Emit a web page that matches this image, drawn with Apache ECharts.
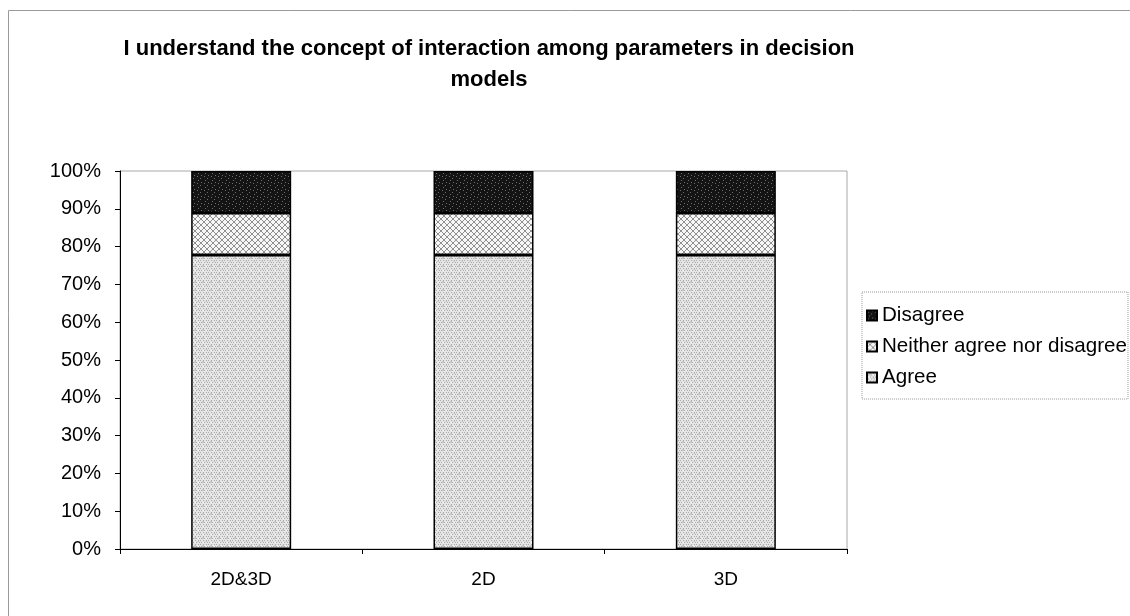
<!DOCTYPE html>
<html>
<head>
<meta charset="utf-8">
<style>
  html, body { margin: 0; padding: 0; background: #ffffff; }
  #chart { width: 1130px; height: 616px; }
</style>
<script src="https://cdn.jsdelivr.net/npm/echarts@6/dist/echarts.min.js"></script>
</head>
<body>
<div id="chart"></div>
<script>
// Survey responses by display mode (share of respondents, %)
const categories = ['2D&3D', '2D', '3D'];
const agree = [77.8, 77.8, 77.8];
const neither = [11.1, 11.1, 11.1];
const disagree = [11.1, 11.1, 11.1];
const yTicks = [0, 10, 20, 30, 40, 50, 60, 70, 80, 90, 100];

const titleText = 'I understand the concept of interaction among parameters in decision\nmodels';
const FONT = '"Liberation Sans", Arial, sans-serif';

// Small tiled fills that give the printed look of each response band
function makePattern(draw, size) {
  const c = document.createElement('canvas');
  c.width = size; c.height = size;
  const g = c.getContext('2d');
  draw(g, size);
  return { image: c, repeat: 'repeat' };
}

const agreeFill = makePattern(function (g, s) {
  g.fillStyle = '#e6e6e6'; g.fillRect(0, 0, s, s);
  g.fillStyle = '#a8a8a8';
  for (let y = 0; y < s; y += 2) {
    for (let x = (y % 4 === 0 ? 0 : 1); x < s; x += 3) g.fillRect(x, y, 1, 1);
  }
  g.fillStyle = '#c8c8c8';
  g.fillRect(2, 1, 2, 2); g.fillRect(5, 5, 2, 1);
  g.fillStyle = '#f6f6f6';
  g.fillRect(6, 2, 1, 1); g.fillRect(3, 6, 1, 1);
}, 8);

const neitherFill = makePattern(function (g, s) {
  g.fillStyle = '#f6f6f6'; g.fillRect(0, 0, s, s);
  g.fillStyle = '#909090';
  for (let i = 0; i < s; i++) {
    g.fillRect(i, i, 1, 1);
    g.fillRect(s - 1 - i, i, 1, 1);
  }
}, 6);

const disagreeFill = makePattern(function (g, s) {
  g.fillStyle = '#141414'; g.fillRect(0, 0, s, s);
  g.fillStyle = '#6e6e6e';
  g.fillRect(1, 1, 1, 1); g.fillRect(4, 3, 1, 1); g.fillRect(2, 5, 1, 1); g.fillRect(5, 0, 1, 1);
}, 7);

const chart = echarts.init(document.getElementById('chart'), null, { renderer: 'canvas' });

const barStyle = function (fill) {
  return { color: fill, borderColor: '#000000', borderWidth: 1.5 };
};

chart.setOption({
  backgroundColor: '#ffffff',
  animation: false,
  textStyle: { fontFamily: FONT, color: '#000000' },
  title: {
    text: titleText,
    left: 484,
    top: 28,
    textAlign: 'center',
    textStyle: { fontFamily: FONT, fontSize: 22, fontWeight: 'bold', color: '#000000', lineHeight: 31 }
  },
  legend: {
    orient: 'vertical',
    left: 862,
    top: 292,
    width: 266,
    data: ['Disagree', 'Neither agree nor disagree', 'Agree'],
    icon: 'rect',
    itemWidth: 10,
    itemHeight: 10,
    itemGap: 10,
    padding: [13, 1, 11, 4],
    borderColor: '#9a9a9a',
    borderWidth: 1,
    borderType: 'dotted',
    textStyle: { fontFamily: FONT, fontSize: 20.6, color: '#000000', padding: [0, 0, 0, 0] }
  },
  grid: {
    left: 120,
    right: 283,
    top: 171,
    bottom: 67,
    show: true,
    borderColor: '#a8a8a8',
    borderWidth: 1,
    backgroundColor: 'transparent'
  },
  xAxis: {
    type: 'category',
    data: categories,
    axisLine: { lineStyle: { color: '#000000', width: 1 } },
    axisTick: { show: true, length: 5, alignWithLabel: false, lineStyle: { color: '#000000' } },
    axisLabel: { fontFamily: FONT, fontSize: 19, color: '#000000', margin: 21 },
    splitLine: { show: false }
  },
  yAxis: {
    type: 'value',
    min: 0,
    max: 100,
    interval: 10,
    axisLine: { show: true, lineStyle: { color: '#000000', width: 1 } },
    axisTick: { show: true, length: 5, lineStyle: { color: '#000000' } },
    axisLabel: {
      fontFamily: FONT, fontSize: 20, color: '#000000', margin: 19,
      formatter: function (v) { return yTicks.indexOf(v) >= 0 ? v + '%' : ''; }
    },
    splitLine: { show: false }
  },
  series: [
    { name: 'Agree', type: 'bar', stack: 'total', barWidth: 100, data: agree, itemStyle: barStyle(agreeFill) },
    { name: 'Neither agree nor disagree', type: 'bar', stack: 'total', barWidth: 100, data: neither, itemStyle: barStyle(neitherFill) },
    { name: 'Disagree', type: 'bar', stack: 'total', barWidth: 100, data: disagree, itemStyle: barStyle(disagreeFill) }
  ],
  graphic: [
    {
      type: 'rect',
      silent: true,
      z: -1,
      shape: { x: 8.5, y: 10.5, width: 1200, height: 700 },
      style: { fill: 'none', stroke: '#9a9a9a', lineWidth: 1 }
    }
  ]
});
</script>
</body>
</html>
